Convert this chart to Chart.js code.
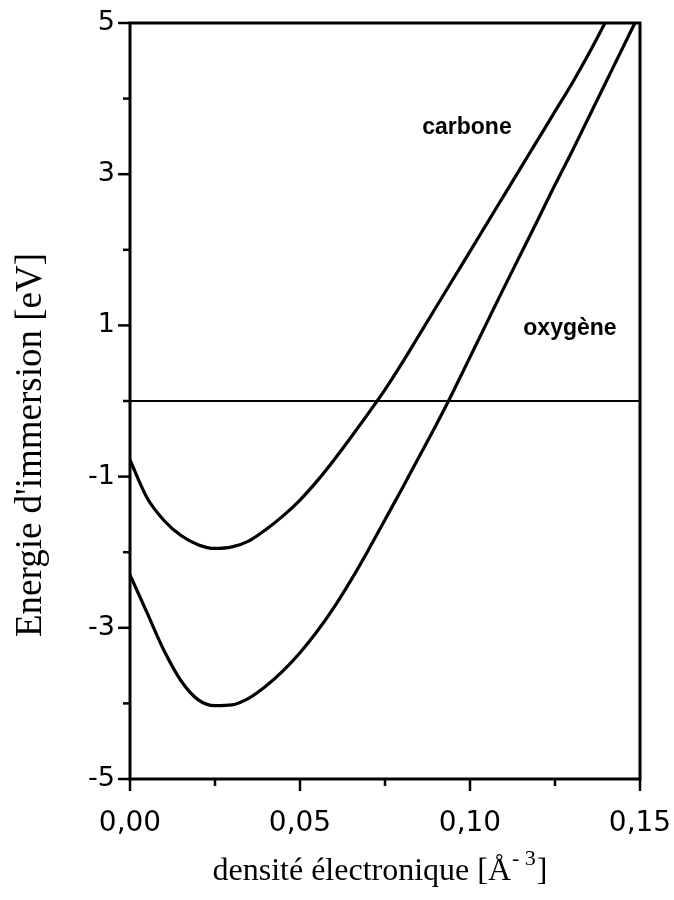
<!DOCTYPE html>
<html>
<head>
<meta charset="utf-8">
<script src="https://cdn.jsdelivr.net/npm/chart.js@4.4.0/dist/chart.umd.min.js"></script>
<style>
  html, body { margin: 0; padding: 0; background: #ffffff; }
  #wrap { width: 674px; height: 900px; }
</style>
</head>
<body>
<div id="wrap"><canvas id="c" width="674" height="900"></canvas></div>
<script>
// Electron density [Å^-3] and immersion energy [eV], carbon
const densiteCarbone = [0, 0.005, 0.01, 0.015, 0.02, 0.025, 0.03, 0.035, 0.04, 0.045, 0.05,
  0.055, 0.06, 0.065, 0.07, 0.075, 0.08, 0.085, 0.09, 0.095, 0.10, 0.105, 0.11, 0.115,
  0.12, 0.125, 0.13, 0.135, 0.1397];
const energieCarbone = [-0.78, -1.28, -1.58, -1.78, -1.90, -1.95, -1.93, -1.85, -1.70, -1.52, -1.31,
  -1.06, -0.78, -0.48, -0.17, 0.15, 0.50, 0.87, 1.24, 1.61, 1.98, 2.35, 2.72, 3.09,
  3.46, 3.83, 4.20, 4.60, 5.00];

// Electron density [Å^-3] and immersion energy [eV], oxygen
const densiteOxygene = [0, 0.005, 0.01, 0.015, 0.02, 0.025, 0.03, 0.035, 0.04, 0.045, 0.05,
  0.055, 0.06, 0.065, 0.07, 0.075, 0.08, 0.085, 0.09, 0.095, 0.10, 0.105, 0.11, 0.115,
  0.12, 0.125, 0.13, 0.135, 0.14, 0.145, 0.1485];
const energieOxygene = [-2.30, -2.80, -3.30, -3.70, -3.95, -4.03, -4.02, -3.93, -3.77, -3.57, -3.33,
  -3.05, -2.73, -2.37, -1.98, -1.57, -1.16, -0.74, -0.32, 0.12, 0.58, 1.04, 1.50, 1.95,
  2.40, 2.86, 3.30, 3.76, 4.22, 4.68, 5.00];

// Axis ticks
const xMajorTicks = [0, 0.05, 0.10, 0.15];
const xMinorTicks = [0.025, 0.075, 0.125];
const yMajorTicks = [-5, -3, -1, 1, 3, 5];
const yMinorTicks = [-4, -2, 0, 2, 4];

// Curve labels placed in data space
const curveLabels = [
  { text: 'carbone', x: 0.0991, y: 3.62 },
  { text: 'oxygène', x: 0.1294, y: 0.96 }
];

const toPoints = (xs, ys) => xs.map((x, i) => ({ x: x, y: ys[i] }));
const fmtX = v => v.toFixed(2).replace('.', ',');
const serif = '"Liberation Serif", "Times New Roman", serif';
const sans = '"DejaVu Sans", "Liberation Sans", Arial, sans-serif';

const framePlugin = {
  id: 'frameAndExtras',
  afterDraw(chart) {
    const { ctx, chartArea: a, scales: { x, y } } = chart;
    ctx.save();
    ctx.strokeStyle = '#000';
    ctx.fillStyle = '#000';
    ctx.lineCap = 'butt';

    // frame
    ctx.lineWidth = 3;
    ctx.strokeRect(a.left, a.top, a.right - a.left, a.bottom - a.top);

    // y tick marks (outside, left)
    ctx.lineWidth = 2.5;
    const yTick = (v, len) => {
      const py = y.getPixelForValue(v);
      ctx.beginPath(); ctx.moveTo(a.left - len, py); ctx.lineTo(a.left, py); ctx.stroke();
    };
    yMajorTicks.forEach(v => yTick(v, 12));
    yMinorTicks.forEach(v => yTick(v, 7));

    // x tick marks (outside, below)
    const xTick = (v, len) => {
      const px = x.getPixelForValue(v);
      ctx.beginPath(); ctx.moveTo(px, a.bottom); ctx.lineTo(px, a.bottom + len); ctx.stroke();
    };
    xMajorTicks.forEach(v => xTick(v, 12));
    xMinorTicks.forEach(v => xTick(v, 7));

    // curve labels
    ctx.font = 'bold 23px "Liberation Sans", Arial, sans-serif';
    ctx.textAlign = 'center';
    ctx.textBaseline = 'middle';
    curveLabels.forEach(l => ctx.fillText(l.text, x.getPixelForValue(l.x), y.getPixelForValue(l.y)));

    // y axis title
    ctx.font = '37px ' + serif;
    ctx.save();
    ctx.translate(31, 445);
    ctx.rotate(-Math.PI / 2);
    ctx.textAlign = 'center';
    ctx.textBaseline = 'middle';
    ctx.fillText("Energie d'immersion [eV]", 0, 0);
    ctx.restore();

    // x axis title with superscript exponent
    const mainFont = '32px ' + serif;
    const supFont = '22px ' + serif;
    const part1 = 'densité électronique [Å';
    const sup = '- 3';
    const part2 = ']';
    ctx.textAlign = 'left';
    ctx.textBaseline = 'alphabetic';
    ctx.font = mainFont;
    const w1 = ctx.measureText(part1).width;
    const w3 = ctx.measureText(part2).width;
    ctx.font = supFont;
    const w2 = ctx.measureText(sup).width + 2;
    const total = w1 + w2 + w3;
    let tx = 380 - total / 2;
    const base = 880;
    ctx.font = mainFont;
    ctx.fillText(part1, tx, base);
    tx += w1 + 1;
    ctx.font = supFont;
    ctx.fillText(sup, tx, base - 15);
    tx += w2 - 1;
    ctx.font = mainFont;
    ctx.fillText(part2, tx, base);

    ctx.restore();
  }
};

new Chart(document.getElementById('c'), {
  type: 'line',
  data: {
    datasets: [
      {
        label: 'carbone',
        data: toPoints(densiteCarbone, energieCarbone),
        borderColor: '#000',
        borderWidth: 3.2,
        pointRadius: 0,
        fill: false,
        cubicInterpolationMode: 'monotone'
      },
      {
        label: 'oxygène',
        data: toPoints(densiteOxygene, energieOxygene),
        borderColor: '#000',
        borderWidth: 3.2,
        pointRadius: 0,
        fill: false,
        cubicInterpolationMode: 'monotone'
      }
    ]
  },
  options: {
    responsive: false,
    animation: false,
    devicePixelRatio: 1,
    layout: { padding: { top: 23, right: 34, left: 0, bottom: 0 } },
    plugins: { legend: { display: false }, tooltip: { enabled: false } },
    scales: {
      x: {
        type: 'linear',
        min: 0,
        max: 0.15,
        afterFit: s => { s.height = 121; s.paddingLeft = 0; s.paddingRight = 0; },
        afterBuildTicks: s => { s.ticks = xMajorTicks.map(v => ({ value: v })); },
        ticks: {
          callback: v => fmtX(v),
          color: '#000',
          padding: 28,
          maxRotation: 0,
          autoSkip: false,
          font: { family: sans, size: 28 }
        },
        grid: { display: true, drawOnChartArea: false, drawTicks: false },
        border: { display: false }
      },
      y: {
        type: 'linear',
        min: -5,
        max: 5,
        afterFit: s => { s.width = 130; s.paddingTop = 0; s.paddingBottom = 0; },
        afterBuildTicks: s => {
          s.ticks = yMajorTicks.concat(yMinorTicks).sort((a, b) => a - b).map(v => ({ value: v }));
        },
        ticks: {
          callback: v => (yMajorTicks.includes(v) ? String(v) : ''),
          color: '#000',
          padding: 15,
          autoSkip: false,
          font: { family: sans, size: 27 }
        },
        grid: {
          display: true,
          drawTicks: false,
          color: c => (c.tick && c.tick.value === 0 ? '#000' : 'rgba(0,0,0,0)'),
          lineWidth: 2
        },
        border: { display: false }
      }
    }
  },
  plugins: [framePlugin]
});
</script>
</body>
</html>
